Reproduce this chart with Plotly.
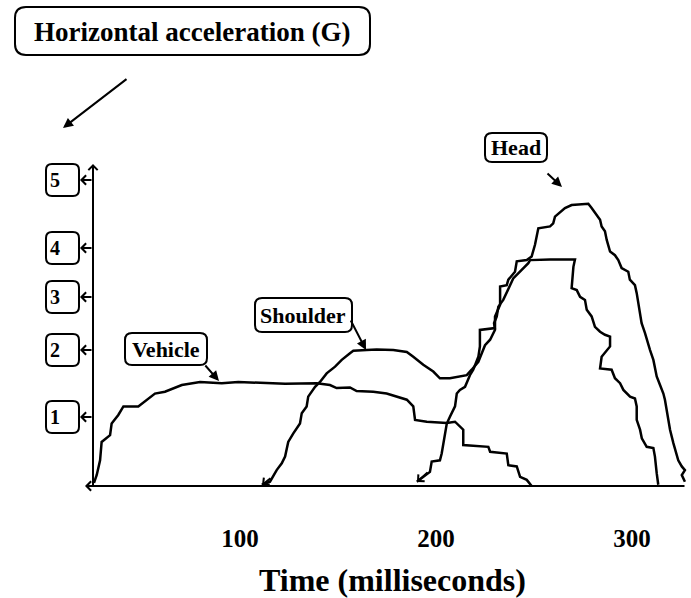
import plotly.graph_objects as go

# ---------------- data (time in ms, horizontal acceleration in G) ----------------
vehicle_t = [25.5, 26.9, 28.6, 29.4, 33.7, 34.5, 37.9, 40.5, 48.1, 52.4, 56.6, 61.7, 66.0, 70.3,
             79.6, 90.7, 99.1, 113.6, 123.0, 139.1, 145.9, 149.3, 156.1, 159.5, 168.0, 174.8,
             180.0, 185.1, 188.4, 189.3, 195.3, 205.5, 209.7, 212.2, 213.9, 213.9, 226.7, 227.6,
             236.1, 236.9, 241.2, 242.9, 246.3, 248.8]
vehicle_g = [0.05, 0.18, 0.42, 0.72, 0.83, 1.02, 1.16, 1.30, 1.30, 1.41, 1.51, 1.54, 1.60, 1.65,
             1.70, 1.68, 1.70, 1.68, 1.67, 1.68, 1.65, 1.60, 1.61, 1.55, 1.54, 1.51,
             1.46, 1.41, 1.30, 1.08, 1.05, 1.03, 1.05, 0.97, 0.92, 0.67, 0.64, 0.56,
             0.53, 0.34, 0.32, 0.15, 0.10, 0.0]

shoulder_t = [111.1, 115.3, 118.7, 121.3, 123.0, 124.6, 127.2, 128.9, 130.6, 131.5,
              134.0, 134.8, 138.3, 140.8, 144.2, 148.5, 151.9, 156.1, 157.8, 164.6,
              169.7, 178.2, 185.1, 188.4, 193.5, 198.6, 202.0, 207.1, 212.2, 215.7,
              218.2, 221.6, 225.0, 227.6, 230.1, 229.6, 231.0, 231.8, 234.3, 236.1,
              237.8, 239.4, 241.2, 243.7, 247.1, 248.0, 258.2, 270.9, 270.1, 269.2,
              271.8, 273.5, 276.0, 276.9, 279.4, 281.1, 283.7, 286.2, 288.8, 288.8,
              284.5, 283.7, 289.6, 291.3, 293.9, 295.6, 299.0, 301.5, 302.4, 302.4,
              304.1, 305.0, 307.5, 310.9, 311.7, 312.6, 313.4]
shoulder_g = [0.02, 0.07, 0.26, 0.37, 0.48, 0.72, 0.86, 0.94, 1.02, 1.19,
              1.30, 1.46, 1.62, 1.70, 1.84, 1.95, 2.06, 2.17, 2.21, 2.22,
              2.23, 2.22, 2.19, 2.11, 1.98, 1.87, 1.76, 1.76, 1.79, 1.81,
              1.90, 2.03, 2.30, 2.39, 2.55, 2.66, 2.77, 2.93, 3.04, 3.15,
              3.28, 3.39, 3.45, 3.53, 3.64, 3.69, 3.70, 3.70, 3.58, 3.23,
              3.20, 3.09, 3.04, 2.88, 2.77, 2.60, 2.52, 2.47, 2.44, 2.28,
              2.11, 1.92, 1.90, 1.76, 1.68, 1.57, 1.46, 1.43, 1.30, 1.08,
              0.92, 0.78, 0.64, 0.62, 0.48, 0.21, 0.02]

head_t = [190.2, 196.9, 197.8, 202.0, 202.9, 205.5, 207.1, 209.7, 210.6, 212.2,
          214.8, 217.3, 219.0, 221.6, 222.4, 222.4, 230.1, 230.1, 232.7, 232.7,
          236.1, 236.9, 240.3, 241.2, 246.3, 248.8, 250.5, 252.2, 258.2, 259.8,
          260.7, 263.3, 265.8, 269.2, 277.7, 279.4, 281.1, 283.7, 284.5, 286.2,
          287.1, 288.8, 291.3, 293.0, 294.7, 298.1, 298.9, 301.5, 302.4, 303.2,
          304.1, 304.9, 306.6, 307.5, 309.2, 310.9, 311.7, 312.6, 314.3, 316.0,
          316.8, 317.7, 318.5, 319.4, 321.1, 322.8, 323.6, 325.4, 327.0, 325.4,
          327.0]
head_g = [0.07, 0.23, 0.40, 0.42, 0.53, 1.02, 1.13, 1.30, 1.51, 1.57,
          1.62, 1.81, 1.90, 2.11, 2.28, 2.55, 2.58, 2.77, 2.96, 3.26,
          3.28, 3.37, 3.50, 3.67, 3.69, 3.75, 3.94, 4.21, 4.24, 4.29,
          4.40, 4.48, 4.54, 4.59, 4.61, 4.54, 4.46, 4.35, 4.24, 4.16,
          4.02, 3.83, 3.77, 3.69, 3.56, 3.50, 3.37, 3.28, 3.15, 2.99,
          2.82, 2.66, 2.50, 2.39, 2.22, 2.06, 1.95, 1.79, 1.65, 1.51,
          1.41, 1.24, 1.08, 0.92, 0.70, 0.53, 0.42, 0.32, 0.26, 0.18,
          0.07]

series_names = ["Vehicle", "Shoulder", "Head"]
x_tick_vals = [100, 200, 300]
x_tick_text = ["100", "200", "300"]
y_tick_vals = [1.13, 2.22, 3.09, 3.89, 5.0]   # positions as drawn on the hand-made axis
y_tick_text = ["1", "2", "3", "4", "5"]
x_title = "Time (milliseconds)"
y_title = "Horizontal acceleration (G)"

# ---------------- layout geometry ----------------
W, H = 691, 598
L, R, T, B = 94, 0, 164, 112
X_RANGE = [25.5, 330.1]
Y_RANGE = [0, 5.26]
FONT = "Liberation Serif, Times New Roman, serif"


def paper(px, py):
    return (px - L) / (W - L - R), (H - B - py) / (H - T - B)


def rrect_path(x0, y0, x1, y1, r):
    def P(x, y):
        a, b = paper(x, y)
        return f"{a:.5f},{b:.5f}"
    return (f"M{P(x0 + r, y0)} L{P(x1 - r, y0)} Q{P(x1, y0)} {P(x1, y0 + r)} "
            f"L{P(x1, y1 - r)} Q{P(x1, y1)} {P(x1 - r, y1)} L{P(x0 + r, y1)} "
            f"Q{P(x0, y1)} {P(x0, y1 - r)} L{P(x0, y0 + r)} Q{P(x0, y0)} {P(x0 + r, y0)} Z")


fig = go.Figure()
for name, xs, ys in [(series_names[0], vehicle_t, vehicle_g),
                     (series_names[1], shoulder_t, shoulder_g),
                     (series_names[2], head_t, head_g)]:
    fig.add_trace(go.Scatter(x=xs, y=ys, mode="lines", name=name, showlegend=False,
                             line=dict(color="black", width=2.5)))


def box(x0, y0, x1, y1, r=7, w=2):
    fig.add_shape(type="path", path=rrect_path(x0, y0, x1, y1, r), xref="paper", yref="paper",
                  line=dict(color="black", width=w), fillcolor="rgba(0,0,0,0)", layer="above")


def label(text, cx, cy, size):
    xp, yp = paper(cx, cy)
    fig.add_annotation(x=xp, y=yp, xref="paper", yref="paper", text=text, showarrow=False,
                       xanchor="center", yanchor="middle",
                       font=dict(family=FONT, size=size, color="black", weight="bold"))


def arrow(hx, hy, tx, ty, head=2, size=1.0, width=2.0):
    xp, yp = paper(hx, hy)
    fig.add_annotation(x=xp, y=yp, xref="paper", yref="paper", ax=tx - hx, ay=ty - hy,
                       axref="pixel", ayref="pixel", text="", showarrow=True,
                       arrowhead=head, arrowsize=size, arrowwidth=width, arrowcolor="black")


# axes drawn as arrows
arrow(93, 164, 93, 487, head=4, size=0.9, width=2)
arrow(85, 486, 686, 486, head=4, size=0.9, width=2)

# y-tick boxes and little arrows
tick_px = [417, 350, 297, 248, 180]
for py in tick_px:
    box(46, py - 16, 79, py + 16, r=6)
    arrow(80, py, 93, py, head=4, size=0.9, width=2)

# curve start arrows
arrow(262, 485, 272, 477, head=4, size=0.9, width=2)
arrow(417, 482, 429, 471, head=4, size=0.9, width=2)

# title box
box(15, 7, 370, 55, r=11)
label(y_title, 192, 32, 27)
arrow(63, 128, 128, 78, head=2, size=1.0, width=2)

# series labels
box(125, 333, 207, 365)
label(series_names[0], 166, 349, 22)
arrow(219, 381, 204, 364, head=2, size=1.0, width=2)

box(255, 298, 352, 332)
label(series_names[1], 303, 315, 22)
arrow(366, 350, 350, 319, head=2, size=1.0, width=2)

box(485, 133, 547, 162)
label(series_names[2], 516, 148, 22)
arrow(562, 187, 546, 172, head=2, size=1.0, width=2)

fig.update_layout(
    width=W, height=H, autosize=False,
    margin=dict(l=L, r=R, t=T, b=B, pad=0),
    paper_bgcolor="white", plot_bgcolor="white",
    xaxis=dict(range=X_RANGE, showgrid=False, zeroline=False, showline=False,
               tickvals=x_tick_vals, ticktext=x_tick_text, ticks="",
               ticklabelstandoff=35, automargin=False,
               tickfont=dict(family=FONT, size=25, color="black", weight="bold"),
               title=dict(text=x_title, standoff=19,
                          font=dict(family=FONT, size=32, color="black", weight="bold"))),
    yaxis=dict(range=Y_RANGE, showgrid=False, zeroline=False, showline=False,
               tickvals=y_tick_vals, ticktext=y_tick_text, ticks="",
               ticklabelstandoff=33, automargin=False,
               tickfont=dict(family=FONT, size=20, color="black", weight="bold")),
)

fig.write_html("out.html", config={"displayModeBar": False},
               post_script="document.body.style.margin='0px';")
